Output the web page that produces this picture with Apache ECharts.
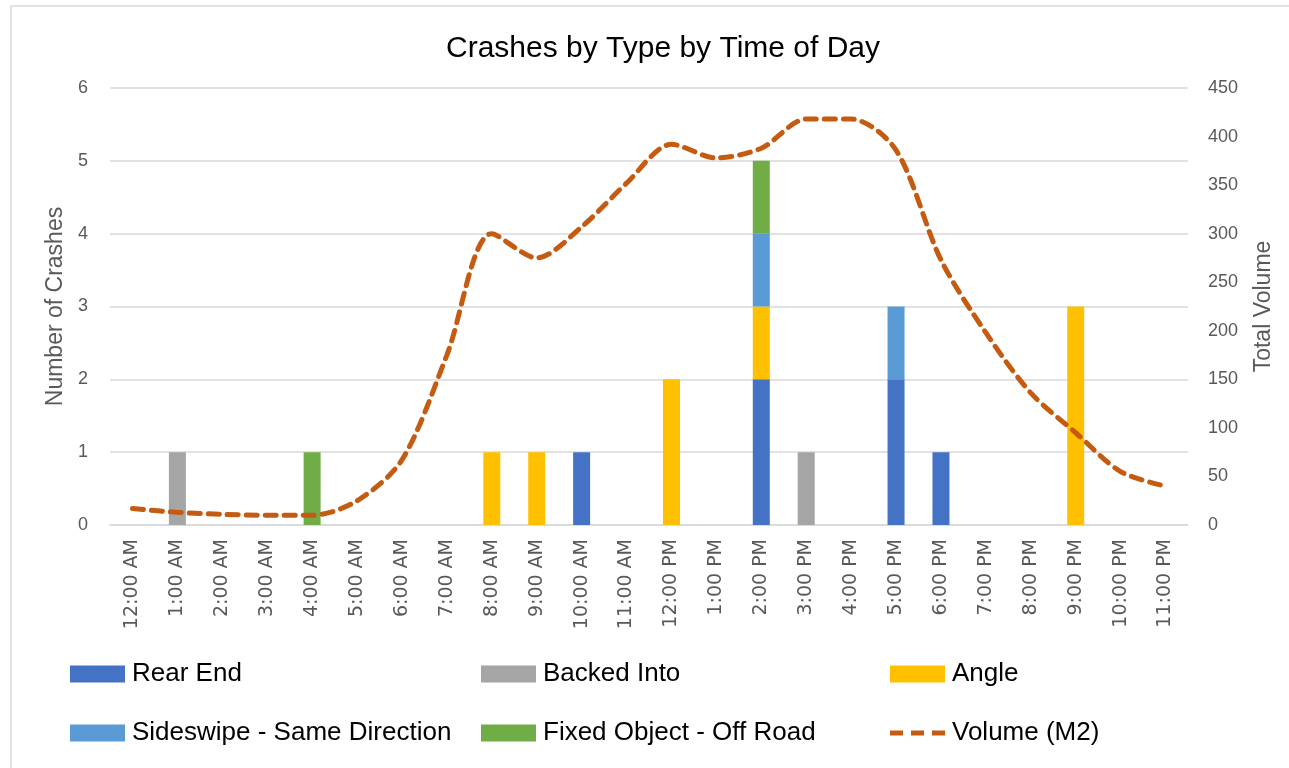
<!DOCTYPE html>
<html>
<head>
<meta charset="utf-8">
<script src="https://cdn.jsdelivr.net/npm/echarts@6/dist/echarts.min.js"></script>
<style>
html, body { margin: 0; padding: 0; background: #fff; }
#container { width: 1289px; height: 768px; }
</style>
</head>
<body>
<div id="container"></div>
<script>
var hours = ['12:00 AM','1:00 AM','2:00 AM','3:00 AM','4:00 AM','5:00 AM','6:00 AM','7:00 AM',
    '8:00 AM','9:00 AM','10:00 AM','11:00 AM','12:00 PM','1:00 PM','2:00 PM','3:00 PM',
    '4:00 PM','5:00 PM','6:00 PM','7:00 PM','8:00 PM','9:00 PM','10:00 PM','11:00 PM'];

var rearEnd     = [0,0,0,0,0,0,0,0,0,0,1,0,0,0,2,0,0,2,1,0,0,0,0,0];
var backedInto  = [0,1,0,0,0,0,0,0,0,0,0,0,0,0,0,1,0,0,0,0,0,0,0,0];
var angle       = [0,0,0,0,0,0,0,0,1,1,0,0,2,0,1,0,0,0,0,0,0,3,0,0];
var sideswipe   = [0,0,0,0,0,0,0,0,0,0,0,0,0,0,1,0,0,1,0,0,0,0,0,0];
var fixedObject = [0,0,0,0,1,0,0,0,0,0,0,0,0,0,1,0,0,0,0,0,0,0,0,0];

// total volume, right axis
var volume = [17,13,11,10,10,25,67,175,300,275,307,352,392,378,388,418,418,386,273,198,136,95,55,40];

var crashTicks = [0,1,2,3,4,5,6];
var volumeTicks = [0,50,100,150,200,250,300,350,400,450];

var dom = document.getElementById('container');
var myChart = echarts.init(dom);

var txtFont = "'Liberation Sans', sans-serif";
var axisGray = '#595959';
var volColor = '#C55A11';

function barSeries(name, data, color) {
    return {
        name: name,
        type: 'bar',
        stack: 'crash',
        barWidth: 17,
        itemStyle: { color: color },
        data: data
    };
}

// legend slots: [name, left, top]
var legendSlots = [
    ['Rear End', 65, 656],
    ['Backed Into', 476, 656],
    ['Angle', 885, 656],
    ['Sideswipe - Same Direction', 65, 715],
    ['Fixed Object - Off Road', 476, 715],
    ['Volume (M2)', 885, 715]
];
var legends = [];
for (var i = 0; i < legendSlots.length; i++) {
    var lg = {
        data: [{ name: legendSlots[i][0], icon: 'rect' }],
        left: legendSlots[i][1],
        top: legendSlots[i][2],
        itemWidth: 55,
        itemHeight: 17,
        itemGap: 0,
        selectedMode: false,
        textStyle: { fontFamily: txtFont, fontSize: 26, color: '#000', padding: [0, 0, 0, 2] }
    };
    if (legendSlots[i][0] == 'Volume (M2)') {
        // three short dashes for the volume line
        lg.data[0].icon = 'path://M0,0h13v5h-13z M21,0h13v5h-13z M42,0h13v5h-13z';
        lg.itemHeight = 5;
        lg.itemStyle = { color: volColor };
    }
    legends.push(lg);
}

var option = {
    animation: false,
    backgroundColor: '#fff',
    title: {
        text: 'Crashes by Type by Time of Day',
        left: 658,
        top: 29,
        textAlign: 'center',
        textStyle: { fontFamily: txtFont, fontSize: 30, fontWeight: 'normal', color: '#000' }
    },
    graphic: [{
        type: 'rect',
        shape: { x: 11, y: 6, width: 1300, height: 800 },
        style: { fill: null, stroke: '#D9D9D9', lineWidth: 1.5 },
        silent: true
    }],
    legend: legends,
    grid: { left: 110, right: 101, top: 88, bottom: 243 },
    xAxis: {
        type: 'category',
        data: hours,
        axisTick: { show: false },
        axisLine: { lineStyle: { color: '#D9D9D9', width: 1.5 } },
        axisLabel: {
            rotate: 90,
            interval: 0,
            margin: 14,
            fontFamily: "'DejaVu Sans', sans-serif",
            fontSize: 19,
            color: axisGray
        }
    },
    yAxis: [{
        type: 'value',
        min: crashTicks[0],
        max: crashTicks[crashTicks.length - 1],
        interval: 1,
        name: 'Number of Crashes',
        nameLocation: 'middle',
        nameRotate: 90,
        nameGap: 36,
        nameTextStyle: { fontFamily: txtFont, fontSize: 23, color: axisGray },
        axisLabel: { fontFamily: txtFont, fontSize: 18, color: axisGray, margin: 22 },
        axisLine: { show: false },
        axisTick: { show: false },
        splitLine: { lineStyle: { color: '#D9D9D9', width: 1.5 } }
    }, {
        type: 'value',
        min: volumeTicks[0],
        max: volumeTicks[volumeTicks.length - 1],
        interval: 50,
        name: 'Total Volume',
        nameLocation: 'middle',
        nameRotate: 90,
        nameGap: 64,
        nameTextStyle: { fontFamily: txtFont, fontSize: 23, color: axisGray },
        axisLabel: { fontFamily: txtFont, fontSize: 18, color: axisGray, margin: 20 },
        axisLine: { show: false },
        axisTick: { show: false },
        splitLine: { show: false }
    }],
    series: [
        barSeries('Rear End', rearEnd, '#4472C4'),
        barSeries('Backed Into', backedInto, '#A5A5A5'),
        barSeries('Angle', angle, '#FFC000'),
        barSeries('Sideswipe - Same Direction', sideswipe, '#5B9BD5'),
        barSeries('Fixed Object - Off Road', fixedObject, '#70AD47'),
        {
            name: 'Volume (M2)',
            type: 'line',
            yAxisIndex: 1,
            smooth: 0.3,
            symbol: 'none',
            itemStyle: { color: volColor },
            lineStyle: { color: volColor, width: 5, type: [11, 8], cap: 'round' },
            data: volume,
            z: 5
        }
    ]
};

myChart.setOption(option);
</script>
</body>
</html>
